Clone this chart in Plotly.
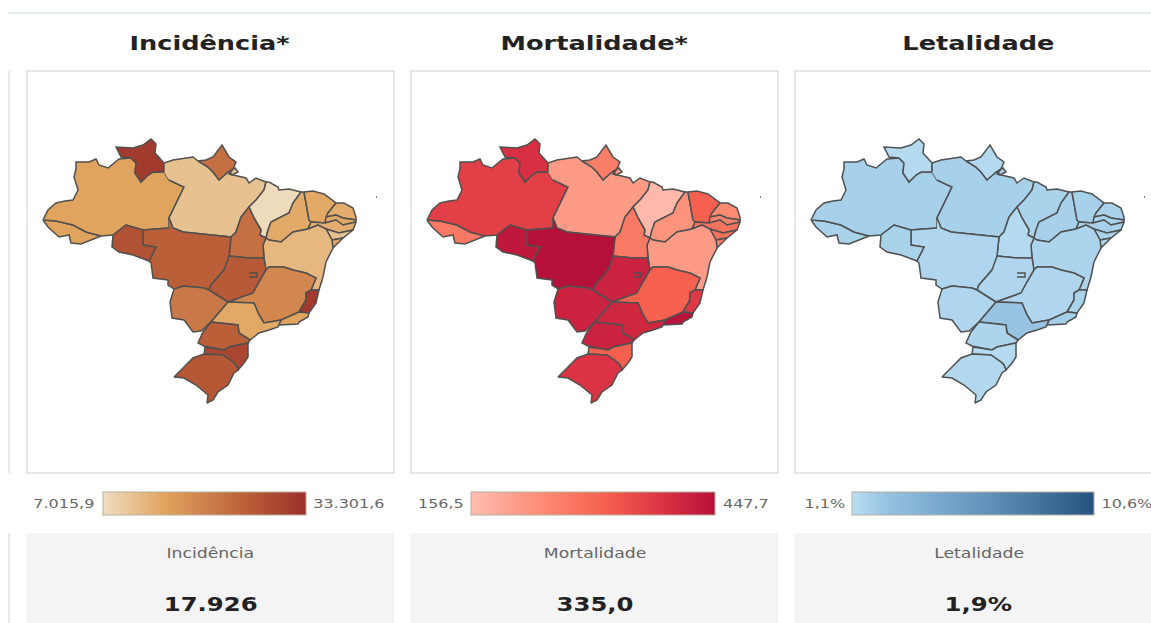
import plotly.graph_objects as go
from plotly.colors import sample_colorscale

W, H = 1151, 623

STATES = ["AC", "AM", "RR", "PA", "AP", "MA", "PI", "CE", "RN", "PB", "PE", "AL", "SE", "BA", "TO",
          "MT", "RO", "GO", "DF", "MS", "MG", "ES", "RJ", "SP", "PR", "SC", "RS"]

INCIDENCIA = [14902, 14902, 31461, 10959, 22787, 7542, 14113, 14376, 13900, 14400, 13587, 10959, 14600, 12273, 22787,
              25416, 27519, 26204, 26204, 21473, 19370, 31461, 14902, 14376, 25416, 29359, 26730]
MORTALIDADE = [273, 366, 389, 215, 267, 165, 229, 317, 244, 258, 288, 288, 273, 215, 273,
               447, 433, 413, 418, 413, 317, 375, 442, 404, 413, 317, 384]
LETALIDADE = [1.7, 1.8, 1.3, 1.8, 1.3, 1.7, 1.8, 1.8, 1.7, 1.7, 1.8, 1.7, 1.6, 1.6, 1.3,
              1.5, 1.7, 1.5, 1.5, 1.5, 1.5, 1.7, 1.9, 2.4, 1.6, 1.3, 1.4]

TITLES = ["Incidência*", "Mortalidade*", "Letalidade"]
CARD_LABELS = ["Incidência", "Mortalidade", "Letalidade"]
CARD_VALUES = ["17.926", "335,0", "1,9%"]
SCALE_MIN = [7015.9, 156.5, 1.1]
SCALE_MAX = [33301.6, 447.7, 10.6]
MIN_LABELS = ["7.015,9", "156,5", "1,1%"]
MAX_LABELS = ["33.301,6", "447,7", "10,6%"]

SCALES = [
    [[0, "#efdfc2"], [0.3, "#e1a45f"], [0.7, "#bb5f38"], [1, "#9b3029"]],
    [[0, "#ffbdb0"], [0.3, "#fd8a73"], [0.55, "#f5604f"], [0.8, "#d92f42"], [1, "#b5103a"]],
    [[0, "#b9def3"], [0.15, "#94c1e0"], [0.6, "#5b8db8"], [1, "#26527f"]],
]

# state outlines, in map units
SHAPES = {
    "AC": [(427, 220), (440, 221), (457, 225), (470, 232), (485, 236), (470, 242), (465, 244), (455, 243), (453, 235),
           (443, 237), (437, 232), (432, 227)],
    "AM": [(427, 220), (432, 210), (440, 203), (449, 201), (457, 200), (462, 190), (458, 177), (460, 169), (460, 162),
           (473, 162), (480, 159), (483, 165), (492, 168), (503, 159), (515, 158), (520, 163), (519, 173), (525, 182),
           (532, 175), (537, 172), (548, 172), (553, 180), (568, 187), (553, 218), (553, 228), (527, 230), (520, 228),
           (510, 225), (497, 235), (485, 236), (470, 232), (457, 225), (440, 221)],
    "RR": [(515, 158), (505, 157), (500, 147), (517, 148), (527, 145), (535, 139), (540, 144), (539, 153), (548, 163),
           (548, 172), (537, 172), (532, 175), (525, 182), (519, 173), (520, 163)],
    "PA": [(548, 172), (548, 163), (557, 160), (570, 158), (577, 157), (582, 161), (592, 167), (597, 172), (603, 180),
           (612, 172), (617, 169), (613, 174), (630, 178), (633, 183), (640, 178), (650, 182), (648, 190), (640, 200),
           (633, 207), (625, 217), (620, 232), (615, 237), (567, 232), (557, 228), (553, 218), (568, 187), (553, 180),
           (None, None), (613, 171), (619, 168), (622, 172), (616, 175), (613, 171)],
    "AP": [(582, 161), (590, 160), (597, 157), (606, 145), (613, 157), (620, 162), (617, 169), (612, 172), (603, 180),
           (597, 172), (592, 167)],
    "MA": [(650, 182), (653, 182), (662, 187), (663, 190), (673, 189), (685, 192), (677, 203), (673, 213), (655, 222),
           (652, 230), (650, 238), (644, 235), (645, 230), (638, 218), (633, 207), (640, 200), (648, 190)],
    "PI": [(685, 192), (688, 192), (693, 220), (695, 222), (692, 229), (677, 232), (665, 242), (653, 240), (650, 238),
           (652, 230), (655, 222), (673, 213), (677, 203)],
    "CE": [(688, 192), (697, 191), (708, 194), (720, 203), (712, 213), (709, 223), (695, 222), (693, 220)],
    "RN": [(720, 203), (728, 203), (737, 208), (740, 217), (740, 220), (727, 218), (720, 215), (710, 217), (712, 213)],
    "PB": [(710, 217), (720, 215), (727, 218), (740, 220), (740, 222), (727, 225), (720, 220), (709, 223)],
    "PE": [(695, 222), (709, 223), (720, 220), (727, 225), (740, 222), (737, 230), (723, 233), (710, 229), (702, 225),
           (692, 229), (695, 222), (None, None), (760, 197), (761, 197), (760, 197)],
    "AL": [(710, 229), (723, 233), (737, 230), (727, 238), (716, 240)],
    "SE": [(716, 240), (727, 238), (717, 248)],
    "BA": [(650, 238), (653, 240), (665, 242), (677, 232), (692, 229), (702, 225), (710, 229), (716, 240), (717, 248),
           (710, 262), (707, 277), (703, 290), (695, 290), (700, 278), (690, 273), (677, 270), (668, 267), (653, 267),
           (650, 270), (648, 258), (647, 245)],
    "TO": [(633, 207), (638, 218), (645, 230), (644, 235), (650, 238), (647, 245), (648, 258), (633, 258), (613, 256),
           (615, 237), (620, 232), (625, 217)],
    "MT": [(553, 218), (557, 228), (567, 232), (615, 237), (613, 256), (613, 260), (608, 270), (595, 285), (593, 290),
           (588, 288), (568, 286), (558, 289), (552, 285), (552, 280), (537, 278), (535, 263), (533, 261), (540, 247),
           (527, 245), (527, 230), (553, 228)],
    "RO": [(497, 235), (496, 247), (503, 252), (517, 255), (533, 261), (540, 247), (527, 245), (527, 230), (520, 228),
           (510, 225)],
    "GO": [(613, 256), (633, 258), (648, 258), (650, 270), (643, 282), (637, 293), (612, 302), (593, 290), (595, 285),
           (608, 270)],
    "DF": [(633, 273), (641, 273), (641, 277), (633, 277)],
    "MS": [(593, 290), (612, 302), (595, 322), (585, 331), (577, 332), (568, 320), (556, 318), (554, 302), (558, 289),
           (568, 286), (588, 288)],
    "MG": [(650, 270), (653, 267), (668, 267), (677, 270), (690, 273), (700, 278), (695, 290), (690, 293), (690, 300),
           (683, 312), (665, 320), (648, 323), (643, 315), (638, 303), (612, 302), (637, 293), (643, 282)],
    "ES": [(703, 290), (700, 303), (693, 313), (683, 312), (690, 300), (690, 293), (695, 290)],
    "RJ": [(683, 312), (693, 313), (692, 317), (683, 322), (682, 324), (663, 325), (662, 327), (665, 320)],
    "SP": [(612, 302), (638, 303), (643, 315), (648, 323), (665, 320), (662, 327), (653, 330), (643, 333), (634, 340),
           (623, 333), (622, 325), (595, 322)],
    "PR": [(595, 322), (622, 325), (623, 333), (634, 340), (632, 343), (613, 347), (608, 350), (588, 346), (582, 343),
           (587, 332)],
    "SC": [(589, 347), (608, 350), (613, 347), (632, 343), (632, 357), (628, 363), (622, 370), (620, 365), (617, 362),
           (607, 355), (588, 354)],
    "RS": [(588, 354), (607, 355), (617, 362), (620, 365), (622, 370), (618, 373), (612, 385), (602, 392), (597, 400),
           (591, 403), (592, 395), (580, 385), (568, 378), (558, 377), (568, 367), (577, 358)],
}

# pixel boxes of the three columns
PANEL_X = [(27, 394), (411, 778), (795, 1151)]
PANEL_Y = (71, 473)
BAR_X = [(103, 306), (471, 715), (852, 1094)]
MIN_LABEL_X = [64, 441, 825]
MAX_LABEL_X = [349, 746, 1127]
MAP_X0 = 411


def px(x):
    return x / W


def py(y):
    return 1 - y / H


def norm(v, i):
    return (v - SCALE_MIN[i]) / (SCALE_MAX[i] - SCALE_MIN[i])


fig = go.Figure()
shapes = []
annots = []

shapes.append(dict(type="line", xref="paper", yref="paper", x0=px(8), x1=1, y0=py(13), y1=py(13),
                   line=dict(color="#e4eeea", width=2)))
for y0, y1 in [(71, 473), (533, 623)]:
    shapes.append(dict(type="line", xref="paper", yref="paper", x0=px(9), x1=px(9), y0=py(y0), y1=py(y1),
                       line=dict(color="#e8e8e8", width=2)))

for i, values in enumerate([INCIDENCIA, MORTALIDADE, LETALIDADE]):
    ax = "" if i == 0 else str(i + 1)
    x0, x1 = PANEL_X[i]
    fig.update_layout({
        "xaxis" + ax: dict(domain=[px(x0), px(x1)], range=[MAP_X0, MAP_X0 + x1 - x0], visible=False, fixedrange=True),
        "yaxis" + ax: dict(domain=[py(PANEL_Y[1]), py(PANEL_Y[0])], range=[PANEL_Y[1], PANEL_Y[0]], visible=False,
                           fixedrange=True, anchor="x" + ax),
    })
    colors = sample_colorscale(SCALES[i], [norm(v, i) for v in values])
    for st, col in zip(STATES, colors):
        pts = SHAPES[st]
        xs = [p[0] for p in pts]
        ys = [p[1] for p in pts]
        if xs[0] != xs[-1] and None not in xs:
            xs.append(xs[0])
            ys.append(ys[0])
        fig.add_trace(go.Scatter(x=xs, y=ys, xaxis="x" + ax, yaxis="y" + ax, mode="lines", fill="toself",
                                 fillcolor=col, line=dict(color="#505050", width=1.5), name=st, showlegend=False,
                                 hoverinfo="name"))

    # invisible points only to carry the colour bar
    fig.add_trace(go.Scatter(
        x=[SHAPES[st][0][0] for st in STATES], y=[SHAPES[st][0][1] for st in STATES],
        xaxis="x" + ax, yaxis="y" + ax, mode="markers", showlegend=False, hoverinfo="skip",
        marker=dict(size=1, opacity=0, color=values, colorscale=SCALES[i], cmin=SCALE_MIN[i], cmax=SCALE_MAX[i],
                    colorbar=dict(orientation="h", lenmode="pixels", len=BAR_X[i][1] - BAR_X[i][0],
                                  thicknessmode="pixels", thickness=23, x=px(BAR_X[i][0]), xanchor="left",
                                  y=py(516), yanchor="bottom", xpad=0, ypad=0, ticks="", showticklabels=False,
                                  outlinecolor="#b5b0a0", outlinewidth=1, borderwidth=0)),
    ))

    # panel frame and card
    shapes.append(dict(type="rect", xref="paper", yref="paper", x0=px(x0), x1=px(x0 + 367), y0=py(PANEL_Y[1]),
                       y1=py(PANEL_Y[0]), line=dict(color="#e6e6e6", width=2), layer="below"))
    shapes.append(dict(type="rect", xref="paper", yref="paper", x0=px(x0), x1=px(x0 + 367), y0=py(623), y1=py(533),
                       fillcolor="#f4f4f4", line=dict(width=0), layer="below"))

    cx = px(x0 + 183.5)
    font = "DejaVu Sans"
    annots.append(dict(text="<b>%s</b>" % TITLES[i], x=cx, y=py(43), font=dict(family=font, size=20, color="#222222")))
    annots.append(dict(text=CARD_LABELS[i], x=cx, y=py(553), font=dict(family=font, size=13.5, color="#666666")))
    annots.append(dict(text="<b>%s</b>" % CARD_VALUES[i], x=cx, y=py(604),
                       font=dict(family=font, size=19, color="#222222")))
    annots.append(dict(text=MIN_LABELS[i], x=px(MIN_LABEL_X[i]), y=py(503),
                       font=dict(family=font, size=12.5, color="#666666")))
    annots.append(dict(text=MAX_LABELS[i], x=px(MAX_LABEL_X[i]), y=py(503),
                       font=dict(family=font, size=12.5, color="#666666")))

for a in annots:
    a.update(xref="paper", yref="paper", showarrow=False, xanchor="center", yanchor="middle")

fig.update_layout(width=W, height=H, margin=dict(l=0, r=0, t=0, b=0), paper_bgcolor="white", plot_bgcolor="white",
                  shapes=shapes, annotations=annots, showlegend=False)

# the reference text is stretched sideways, same as its map
stretch = """
document.body.style.margin='0';
document.body.style.overflow='hidden';
document.querySelectorAll('.annotation-text').forEach(function (t) {
    t.style.transformBox = 'fill-box';
    t.style.transformOrigin = 'center';
    t.style.transform = 'scaleX(1.28)';
});
"""

fig.write_html("out.html", config={"displayModeBar": False}, post_script=stretch)
